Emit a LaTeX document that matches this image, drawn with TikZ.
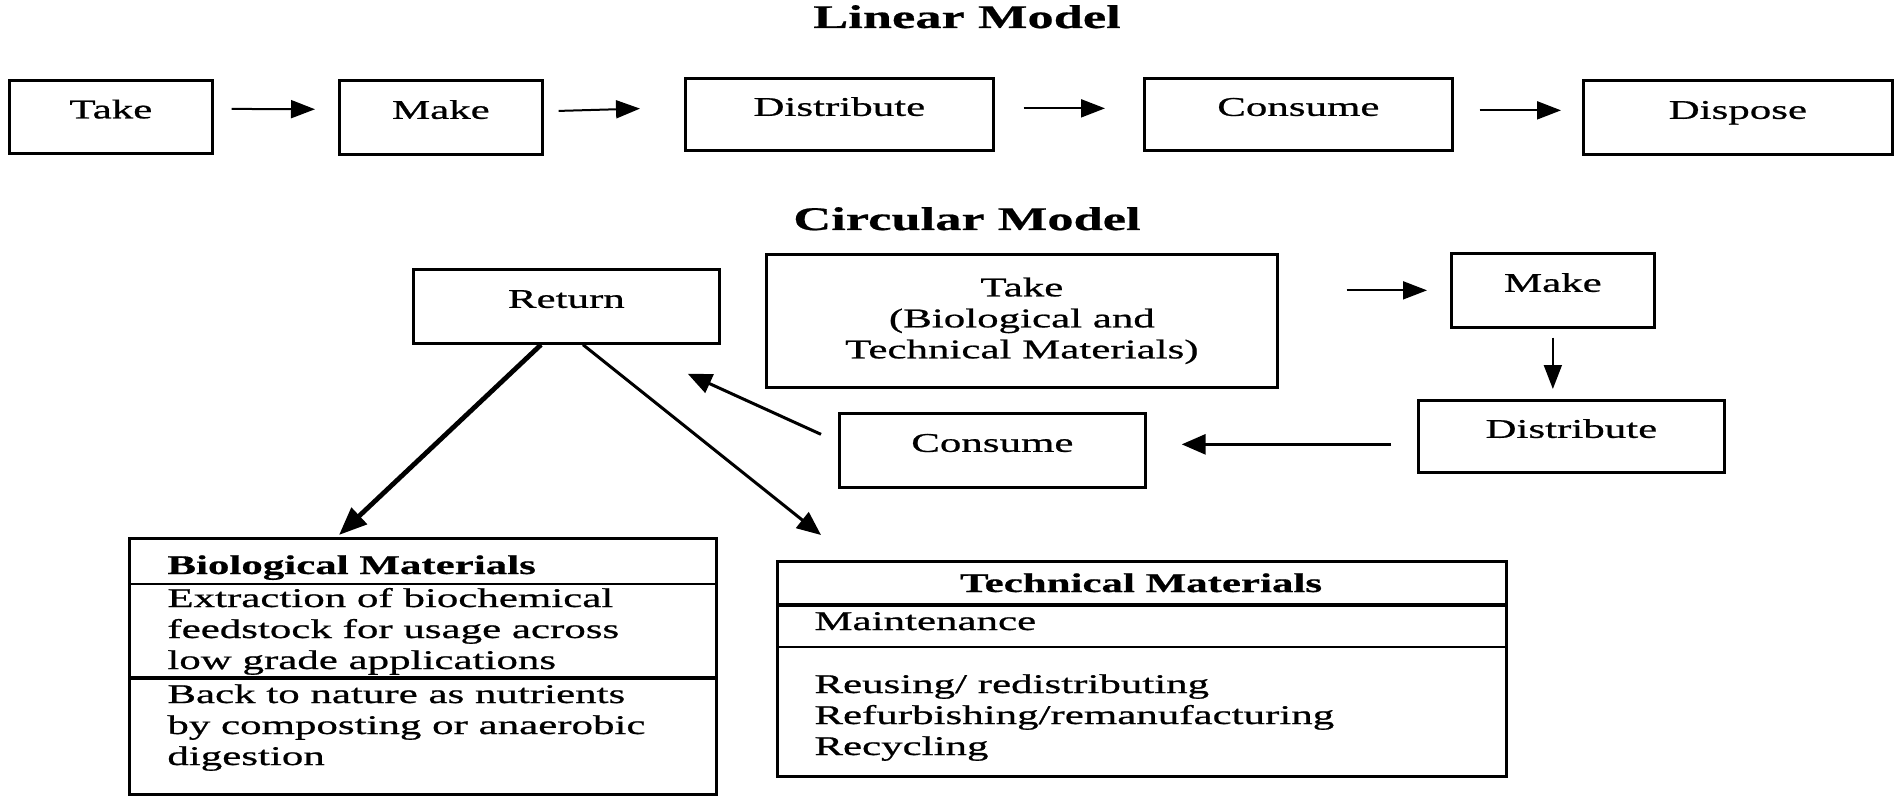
\documentclass[tikz,border=0pt]{standalone}
\usepackage{fontspec}
\setmainfont{Liberation Serif}[FakeStretch=1.59, UprightFeatures={FakeBold=0.8}, BoldFeatures={FakeBold=0.6}]
\usetikzlibrary{arrows.meta,calc}
\begin{document}
\begin{tikzpicture}[x=0.5pt,y=-0.5pt,
  bodyfont/.style={font=\fontsize{13.5pt}{15.5pt}\selectfont},
  box/.style={draw, line width=1.35pt, inner sep=0pt, anchor=north west, bodyfont},
  sbox/.style={box, text height=6pt, text depth=4.5pt},
  txt/.style={inner sep=0pt, bodyfont},
  btxt/.style={inner sep=0pt, font=\fontsize{13.5pt}{15.5pt}\selectfont\bfseries},
  ttl/.style={inner sep=0pt, anchor=base, font=\fontsize{16.5pt}{19pt}\selectfont\bfseries},
  arr/.style={-{Triangle[length=12pt,width=9pt]}, line width=1pt},
  carr/.style={-{Triangle[length=12pt,width=10pt]}, line width=1.5pt},
]
\useasboundingbox (0,0) rectangle (1901,802);

% ---------- Linear model ----------
\node[ttl] (lintitle) at (967,28) {Linear Model};
\node[sbox, minimum width=101.5pt, minimum height=36.5pt] (ltake) at (8,79) {Take};
\node[sbox, minimum width=101.5pt, minimum height=37pt] (lmake) at (338,79) {Make};
\node[sbox, minimum width=154pt, minimum height=36pt] (ldist) at (684,77) {Distribute};
\node[sbox, minimum width=154pt, minimum height=36pt] (lcons) at (1143,77) {Consume};
\node[sbox, minimum width=154.5pt, minimum height=37pt] (ldisp) at (1582,79) {Dispose};

\draw[arr, shorten <=9pt, shorten >=11.5pt] ([yshift=4pt]ltake.east) -- ([yshift=4pt]lmake.west);
\draw[arr, shorten <=7.5pt, shorten >=22pt] ([yshift=3pt]lmake.east) -- ([yshift=3.5pt]ldist.west);
\draw[arr, shorten <=14.5pt, shorten >=19pt] ([yshift=3pt]ldist.east) -- ([yshift=3pt]lcons.west);
\draw[arr, shorten <=13pt, shorten >=10.5pt] ([yshift=2pt]lcons.east) -- ([yshift=3.5pt]ldisp.west);

% ---------- Circular model ----------
\node[ttl] (circtitle) at (967,230) {Circular Model};
\node[sbox, minimum width=153pt, minimum height=37pt] (ret) at (412,268) {Return};
\node[box, minimum width=255.5pt, minimum height=66.5pt, align=center] (ctake) at (765,253) {Take\\(Biological and\\Technical Materials)};
\node[sbox, minimum width=101.5pt, minimum height=37pt] (cmake) at (1450,252) {Make};
\node[sbox, minimum width=153pt, minimum height=36pt] (cdist) at (1417,399) {Distribute};
\node[sbox, minimum width=153pt, minimum height=37pt] (ccons) at (838,412) {Consume};

\draw[arr, line width=0.9pt, shorten <=34pt, shorten >=11.5pt] (cmake.west -| ctake.east) -- (cmake.west);
\draw[arr, line width=0.9pt, shorten <=4.5pt, shorten >=5pt] (cmake.south) -- (cmake.south |- cdist.north);
\draw[carr, shorten <=13pt, shorten >=17.5pt] ([yshift=-4pt]cdist.west) -- ([yshift=3pt]ccons.east);
\draw[carr] ([xshift=-8.5pt,yshift=8pt]ccons.west) -- ([xshift=-16.5pt,yshift=-14.5pt]ret.south east);

% ---------- Biological materials ----------
\node[box, minimum width=293.5pt, minimum height=128pt] (bio) at (128,537) {};
\draw[line width=0.9pt] ($(bio.north west)+(0,47)$) -- ($(bio.north east)+(0,47)$);
\draw[line width=2pt] ($(bio.north west)+(0,141)$) -- ($(bio.north east)+(0,141)$);
\node[btxt, anchor=base west] (bioh) at (167,574) {Biological Materials};
\node[txt, anchor=base west] (bio1) at (167,607) {Extraction of biochemical};
\node[txt, anchor=base west] (bio2) at (167,638) {feedstock for usage across};
\node[txt, anchor=base west] (bio3) at (167,669) {low grade applications};
\node[txt, anchor=base west] (bio4) at (167,703) {Back to nature as nutrients};
\node[txt, anchor=base west] (bio5) at (167,734) {by composting or anaerobic};
\node[txt, anchor=base west] (bio6) at (167,765) {digestion};

% ---------- Technical materials ----------
\node[box, minimum width=364.5pt, minimum height=107.5pt] (tech) at (776,560) {};
\draw[line width=2.2pt] ($(tech.north west)+(0,45)$) -- ($(tech.north east)+(0,45)$);
\draw[line width=1pt] ($(tech.north west)+(0,87)$) -- ($(tech.north east)+(0,87)$);
\node[btxt, anchor=base] (techh) at (1141,592) {Technical Materials};
\node[txt, anchor=base west] (tech1) at (814,630) {Maintenance};
\node[txt, anchor=base west] (tech2) at (814,693) {Reusing/ redistributing};
\node[txt, anchor=base west] (tech3) at (814,724) {Refurbishing/remanufacturing};
\node[txt, anchor=base west] (tech4) at (814,755) {Recycling};

% ---------- Return branches ----------
\draw[-{Triangle[length=14pt,width=11pt]}, line width=2.4pt] ([xshift=64.5pt]ret.south west) -- ([xshift=105.5pt,yshift=1pt]bio.north west);
\draw[carr] ([xshift=85.5pt]ret.south west) -- ([xshift=22.5pt,yshift=12.5pt]tech.north west);
\end{tikzpicture}
\end{document}
